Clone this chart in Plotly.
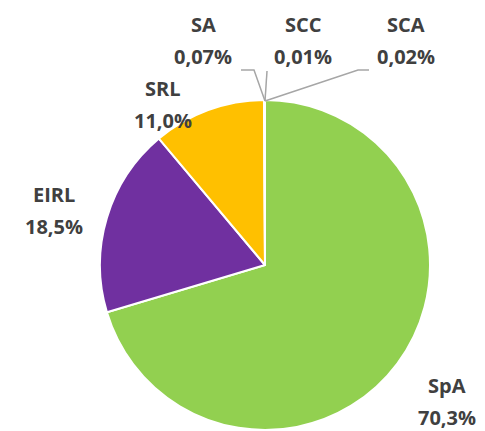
import plotly.graph_objects as go

W, H = 485, 431

categories = ["SpA", "EIRL", "SRL", "SA", "SCC", "SCA"]
shares = [70.3, 18.5, 11.0, 0.07, 0.01, 0.02]
share_labels = ["70,3%", "18,5%", "11,0%", "0,07%", "0,01%", "0,02%"]
colors = ["#92d050", "#7030a0", "#ffc000", "#4472c4", "#ed7d31", "#a5a5a5"]

# label centre positions (pixels): (x, name line y, value line y)
label_pos = {
    "SpA": (447, 385, 417),
    "EIRL": (54, 194, 226),
    "SRL": (163, 88, 120),
    "SA": (203, 24, 56),
    "SCC": (303, 24, 56),
    "SCA": (406, 24, 56),
}

def px(x):
    return x / W

def py(y):
    return 1 - y / H

cx, cy, r = 265, 265, 165

fig = go.Figure(go.Pie(
    labels=categories,
    values=shares,
    sort=False,
    direction="clockwise",
    rotation=0,
    marker=dict(colors=colors, line=dict(color="white", width=2)),
    textinfo="none",
    hoverinfo="label+percent",
    showlegend=False,
    domain=dict(x=[px(cx - r), px(cx + r)], y=[py(cy + r), py(cy - r)]),
))

font = dict(family="Open Sans", size=20, color="#404040")
annotations = []
for cat, lab in zip(categories, share_labels):
    x, y1, y2 = label_pos[cat]
    for txt, yy in ((cat, y1), (lab, y2)):
        annotations.append(dict(
            x=px(x), y=py(yy), xref="paper", yref="paper",
            text=f"<b>{txt}</b>",
            showarrow=False, xanchor="center", yanchor="middle",
            font=font,
        ))

tip = (265, 101)
leaders = [
    [(241, 70), (254, 70), tip],
    [(267, 71), tip],
    [(369, 70), (358, 70), tip],
]
shapes = []
for pts in leaders:
    path = "M " + " L ".join(f"{px(a)},{py(b)}" for a, b in pts)
    shapes.append(dict(type="path", path=path, xref="paper", yref="paper",
                       line=dict(color="#a6a6a6", width=1.5)))

fig.update_layout(
    width=W, height=H,
    margin=dict(l=0, r=0, t=0, b=0),
    paper_bgcolor="white", plot_bgcolor="white",
    annotations=annotations,
    shapes=shapes,
)

fig.write_html("out.html", config={"displayModeBar": False},
               post_script="document.body.style.margin='0';document.body.style.overflow='hidden';")
